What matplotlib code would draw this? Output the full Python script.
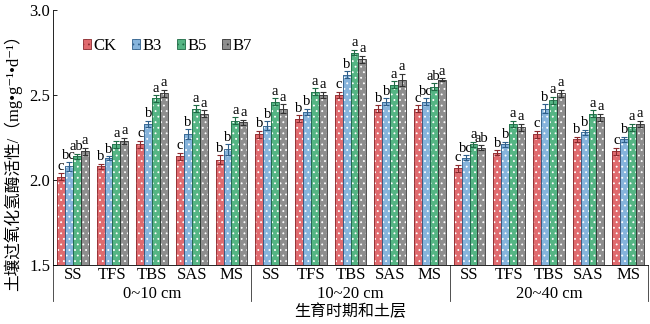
import numpy as np
import matplotlib
matplotlib.use("Agg")
import matplotlib.pyplot as plt
from matplotlib.patches import Patch

plt.rcParams['font.family'] = ['Liberation Serif', 'Noto Sans CJK SC', 'DejaVu Sans']
plt.rcParams['hatch.linewidth'] = 0.6

stages = ["SS", "TFS", "TBS", "SAS", "MS"]
layers = ["0~10 cm", "10~20 cm", "20~40 cm"]
series = ["CK", "B3", "B5", "B7"]

# values in layer order, 5 stages per layer
ck = [2.02, 2.08, 2.21, 2.14, 2.12,  2.27, 2.36, 2.50, 2.42, 2.42,  2.07, 2.16, 2.27, 2.24, 2.17]
b3 = [2.08, 2.13, 2.33, 2.27, 2.18,  2.32, 2.40, 2.62, 2.46, 2.46,  2.13, 2.21, 2.42, 2.28, 2.24]
b5 = [2.14, 2.21, 2.48, 2.42, 2.35,  2.46, 2.52, 2.75, 2.56, 2.55,  2.21, 2.33, 2.47, 2.39, 2.31]
b7 = [2.17, 2.23, 2.51, 2.39, 2.34,  2.42, 2.50, 2.71, 2.59, 2.59,  2.19, 2.31, 2.51, 2.37, 2.33]

ck_err = [0.02, 0.015, 0.02, 0.02, 0.025,  0.02, 0.02, 0.02, 0.02, 0.02,  0.02, 0.015, 0.02, 0.015, 0.02]
b3_err = [0.025, 0.01, 0.02, 0.03, 0.03,  0.025, 0.02, 0.02, 0.02, 0.02,  0.015, 0.015, 0.025, 0.015, 0.015]
b5_err = [0.015, 0.02, 0.02, 0.02, 0.02,  0.02, 0.02, 0.015, 0.02, 0.02,  0.015, 0.02, 0.02, 0.02, 0.02]
b7_err = [0.02, 0.02, 0.02, 0.02, 0.015,  0.025, 0.02, 0.02, 0.035, 0.01,  0.015, 0.02, 0.02, 0.02, 0.02]

ck_sig = ["c", "b", "c", "c", "b",  "b", "b", "c", "b", "c",  "c", "b", "c", "b", "c"]
b3_sig = ["bc", "b", "b", "b", "b",  "b", "b", "b", "b", "bc",  "bc", "b", "b", "b", "b"]
b5_sig = ["ab", "a", "a", "a", "a",  "a", "a", "a", "a", "ab",  "a", "a", "a", "a", "a"]
b7_sig = ["a", "a", "a", "a", "a",  "a", "a", "a", "a", "a",  "ab", "a", "a", "a", "a"]

values = [ck, b3, b5, b7]
errors = [ck_err, b3_err, b5_err, b7_err]
sigs = [ck_sig, b3_sig, b5_sig, b7_sig]
fills = ["#e06a6e", "#86b4dc", "#55b584", "#8e8e8e"]
edges = ["#8a2a2e", "#2f5f8a", "#1f6b45", "#333333"]

fig = plt.figure(figsize=(6.5, 3.24), dpi=100)
ax = fig.add_axes([0.0815, 0.182, 0.9155, 0.787])

x = np.arange(len(ck))
w = 0.2
for i in range(4):
    pos = x + (i - 1.5) * w
    ax.bar(pos, np.array(values[i]) - 1.5, w, bottom=1.5, color=fills[i],
           edgecolor="white", hatch="...", linewidth=0, zorder=2)
    ax.bar(pos, np.array(values[i]) - 1.5, w, bottom=1.5, fill=False,
           edgecolor=edges[i], linewidth=0.6, zorder=3)
    ax.errorbar(pos, values[i], yerr=errors[i], fmt="none", ecolor=edges[i],
                elinewidth=0.8, capsize=2.2, capthick=0.8, zorder=4)
    for j in range(len(pos)):
        ax.text(pos[j], values[i][j] + errors[i][j] + 0.003, sigs[i][j],
                ha="center", va="bottom", fontsize=10.5)

ax.set_ylim(1.5, 3.0)
ax.set_xlim(-0.5, len(ck) - 0.5)
ax.set_yticks([1.5, 2.0, 2.5, 3.0])
ax.set_yticklabels(["1.5", "2.0", "2.5", "3.0"], fontsize=12)
ax.tick_params(axis="y", direction="in", length=3, width=0.6, pad=2)
ax.set_xticks([])
for s in ["top", "right"]:
    ax.spines[s].set_visible(False)
ax.spines["left"].set_linewidth(0.6)
ax.spines["bottom"].set_linewidth(0.6)

trans = ax.get_xaxis_transform()
for k in range(len(layers) + 1):
    xs = -0.5 + k * len(stages)
    ax.plot([xs, xs], [0, -0.14], transform=trans, color="#333333",
            linewidth=0.6, clip_on=False)
for j in range(len(ck)):
    ax.text(x[j], -0.04, stages[j % len(stages)], transform=trans,
            ha="center", va="center", fontsize=12)
for k in range(len(layers)):
    ax.text(k * len(stages) + 2, -0.115, layers[k], transform=trans,
            ha="center", va="center", fontsize=12)
ax.text(7, -0.185, "生育时期和土层", transform=trans, ha="center",
        va="center", fontsize=11.5)
fig.text(0.02, 0.51, "土壤过氧化氢酶活性/（mg•g⁻¹•d⁻¹）",
         rotation=90, ha="center", va="center", fontsize=12)

handles = [Patch(facecolor=fills[i], edgecolor=edges[i], hatch="...",
                 linewidth=0.6) for i in range(4)]
ax.legend(handles, series, loc="upper left", bbox_to_anchor=(0.025, 0.95),
          ncol=4, frameon=False, fontsize=12, handlelength=0.5,
          handleheight=0.5, handletextpad=0.15, columnspacing=0.9)

fig.savefig("out.png", dpi=100)
